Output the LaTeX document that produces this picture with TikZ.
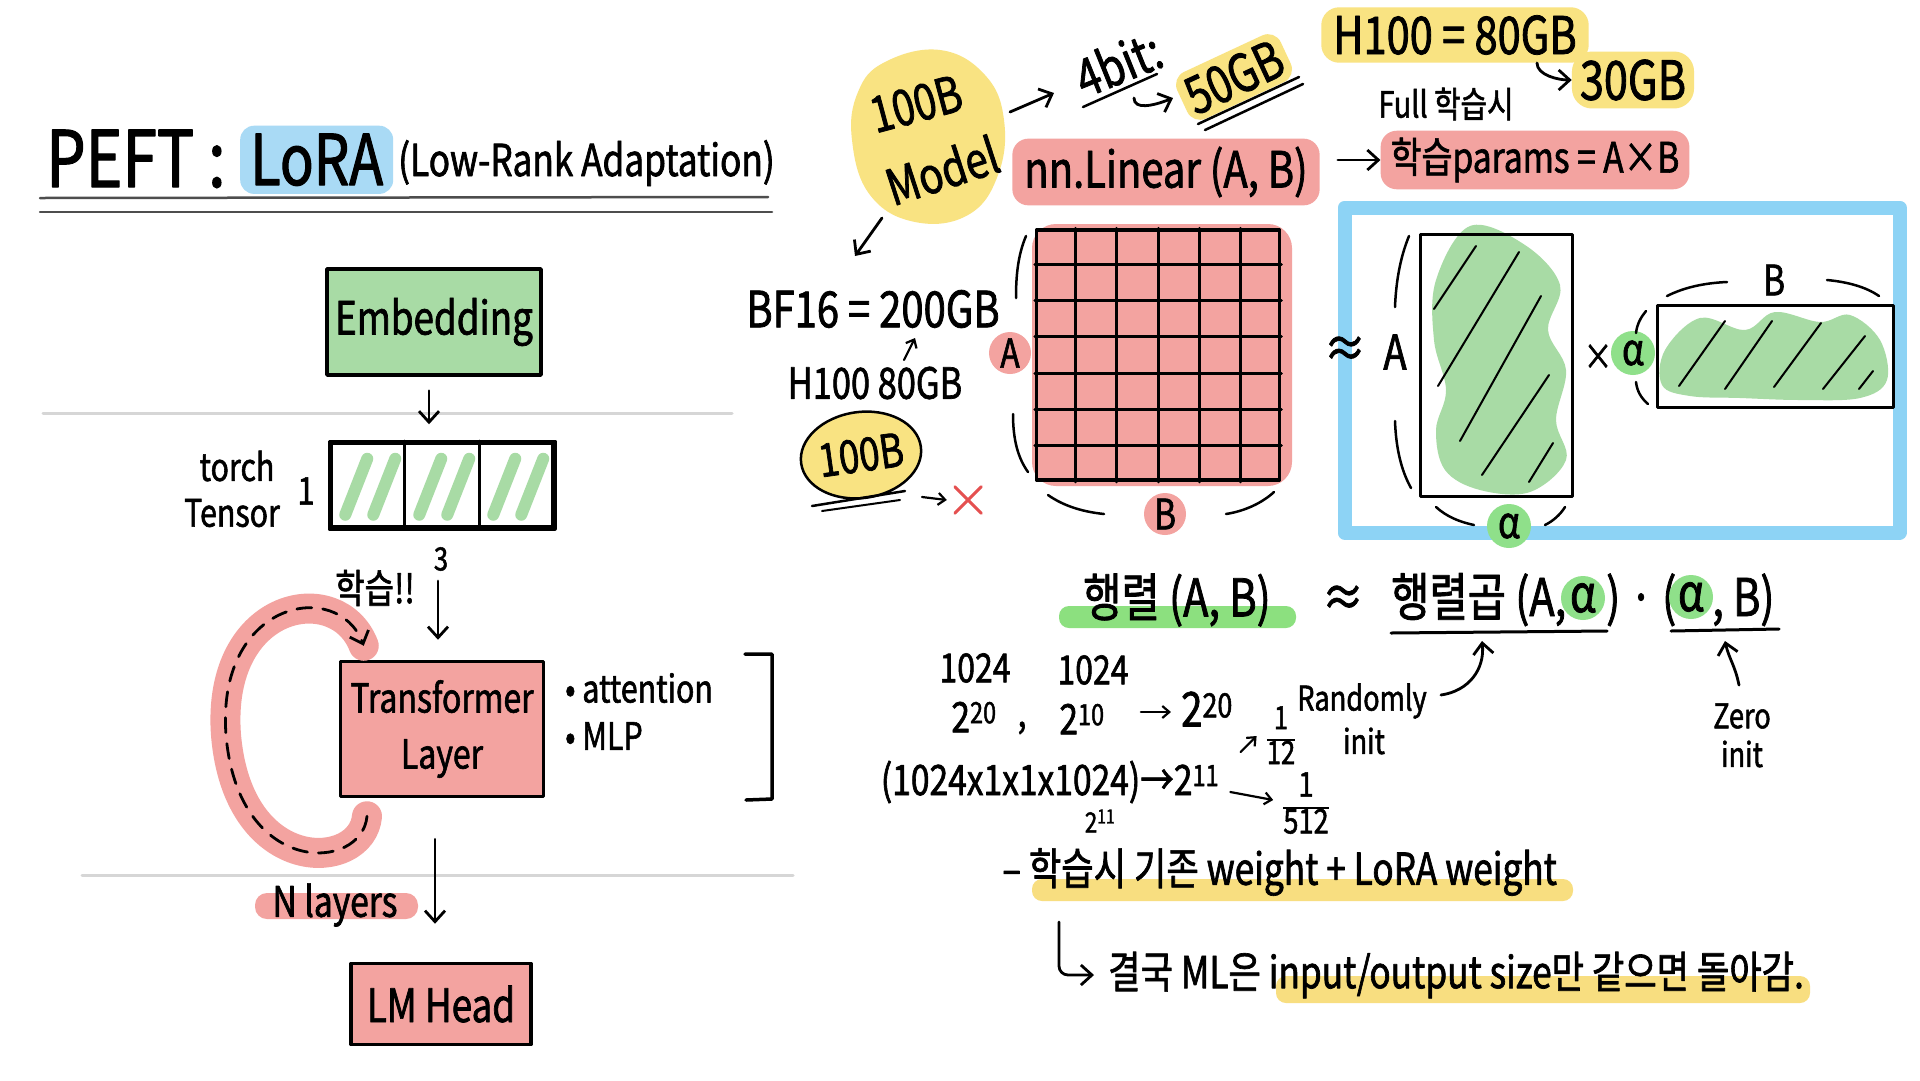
\documentclass[tikz,border=0pt]{standalone}
\usepackage{fontspec}
\setmainfont{Noto Sans CJK KR}[FakeStretch=0.8, FakeBold=1.5]
\usetikzlibrary{positioning,arrows.meta,calc,shapes.geometric}
\definecolor{skgreen}{HTML}{A8DBA5}
\definecolor{skgreenb}{HTML}{8FE08A}
\definecolor{skgreenhl}{HTML}{8CE07F}
\definecolor{skpink}{HTML}{F3A3A0}
\definecolor{skyellow}{HTML}{F9E382}
\definecolor{skyellowhl}{HTML}{F8DE80}
\definecolor{skblue}{HTML}{8DD3F5}
\definecolor{skbluehl}{HTML}{A9DAF5}
\definecolor{skred}{HTML}{E55050}
\definecolor{skgrey}{HTML}{D6D6D6}
\definecolor{skdark}{HTML}{4D4D4D}
\newcommand{\fs}[1]{\fontsize{#1}{#1}\selectfont}
\newcommand{\pw}[2]{#1\textsuperscript{#2}}
\newcommand{\vfr}[2]{\begin{tabular}{@{}c@{}}#1\\\hline #2\end{tabular}}
\setlength{\arrayrulewidth}{2pt}

\begin{document}
\begin{tikzpicture}[x=1pt, y=-1pt, line cap=round, line join=round,
  txt/.style={inner sep=0pt, font=\fs{#1}}, txt/.default=40,
  box/.style={draw=black, line width=3.5pt, align=center, inner sep=0pt},
  arr/.style={-{Straight Barb[length=11pt,width=20pt]}, line width=2.8pt},
  sarr/.style={-{Straight Barb[length=7pt,width=12pt]}, line width=2.2pt},
  hookarr/.style={arr, rounded corners=9pt},
  paren/.style={line width=2.5pt},
  blobdot/.style={circle, fill=#1, inner sep=0pt, minimum size=44pt},
  hatch/.style={line width=2pt},
  grayrule/.style={line width=3pt, draw=skgrey}]
\useasboundingbox[fill=white] (0,0) rectangle (1920,1080);

% title
\node[txt=78, anchor=base west] (peft) at (46,187) {PEFT :};
\node[txt=70, anchor=base west, fill=skbluehl, rounded corners=14pt, inner xsep=10pt, inner ysep=8pt] (lora) at (240,185) {LoRA};
\node[txt=44, anchor=base west] (sub) at (398,176) {(Low-Rank Adaptation)};
\draw[line width=2.5pt, draw=skdark] (40,198) -- (768,197);
\draw[line width=2.5pt, draw=skdark] (40,212) -- (772,212);

% left column
\draw[grayrule] (43,413) -- (732,413);
\draw[grayrule] (82,875) -- (793,875);
\node[box, fill=skgreen, minimum width=214pt, minimum height=106pt, font=\fs{46}] (emb) at (434,322) {Embedding};
\node[box, minimum width=222pt, minimum height=84pt] (tensor) at (442,485) {};
\foreach \i in {0,1,2} {
  \draw[line width=12pt, draw=skgreen] ($(tensor.south west)+({74*\i+16},-14)$) -- ++(22,-56);
  \draw[line width=12pt, draw=skgreen] ($(tensor.south west)+({74*\i+44},-14)$) -- ++(22,-56);
}
\foreach \k in {1,2}
  \draw[line width=3.5pt] ($(tensor.north west)!\k/3!(tensor.north east)$) -- ($(tensor.south west)!\k/3!(tensor.south east)$);
\draw[line width=3.5pt] (tensor.north west) rectangle (tensor.south east);
\node[txt=38] (torch) at (237,466) {torch};
\node[txt=38] (tens) at (232,513) {Tensor};
\node[txt=38] (one) at (306,491) {1};
\node[txt=32] (three) at (441,559) {3};
\node[txt=40] (learn) at (375,588) {학습!!};
\draw[arr, shorten <=14pt, shorten >=17pt] ([xshift=-5pt]emb.south) -- ([xshift=-5pt]emb.south |- tensor.north);

\node[box, fill=skpink, minimum width=203pt, minimum height=135pt, font=\fontsize{40}{56}\selectfont] (tl) at (442,729) {Transformer\\Layer};
\node[box, fill=skpink, minimum width=180pt, minimum height=81pt, font=\fs{46}] (lm) at (441,1004) {LM Head};
\draw[arr, shorten <=22pt, shorten >=20pt] ([xshift=-3pt]three.center) -- ([xshift=-3pt]three.center |- tl.north);
\draw[arr, shorten <=41pt, shorten >=38pt] ([xshift=-7pt]tl.south) -- ([xshift=-7pt]tl.south |- lm.north);
\node[txt=38, anchor=west] (att) at (565,688) {• attention};
\node[txt=38, anchor=west] (mlp) at (565,736) {• MLP};
\draw[line width=3.5pt] (745,654) -- (772,654) -- (772,799) -- (746,800);

\coordinate (loopS) at ([shift={(-75,18)}]tl.south);
\coordinate (loopE) at ([shift={(25,-14)}]tl.north west);
\draw[line width=30pt, draw=skpink] (loopS) .. controls (362,872) and (238,878) .. (226,735) .. controls (216,600) and (338,578) .. (loopE);
\draw[arr, dash pattern=on 15pt off 11pt] (loopS) .. controls (362,872) and (238,878) .. (226,735) .. controls (216,600) and (338,578) .. (loopE);
\fill[skpink, rounded corners=12pt] (255,893) rectangle (418,919);
\node[txt=42] (nlay) at (335,905) {N layers};

% model size notes
\fill[skyellow] plot[smooth cycle, tension=0.7] coordinates {(885,62) (940,50) (985,75) (1004,120) (998,175) (968,215) (915,222) (870,195) (852,140) (858,92)};
\node[txt=50, rotate=15] (m100) at (916,104) {100B};
\node[txt=50, rotate=18] (model) at (942,170) {Model};
\node[txt=52, rotate=22] (fourbit) at (1118,63) {4bit:};
\draw[line width=2.5pt] (1083,107) -- (1157,74);
\node[txt=52, rotate=25, fill=skyellow, rounded corners=14pt, inner sep=6pt] (gb50) at (1234,77) {50GB};
\draw[line width=2.5pt] (1198,124) -- (1299,77);
\draw[line width=2.5pt] (1205,130) -- (1303,84);
\draw[arr] ([shift={(94,8)}]m100.center) -- ([shift={(-64,30)}]fourbit.center);
\draw[arr] ([shift={(16,35)}]fourbit.center) .. controls +(0,12) and +(-20,8) .. ([shift={(-61,21)}]gb50.center);

\node[txt=50] (bf16) at (873,309) {BF16 = 200GB};
\node[txt=43] (h80) at (875,383) {H100 80GB};
\draw[arr] ([shift={(-60,48)}]model.center) -- ([shift={(-18,-53)}]bf16.center);
\draw[sarr] ([shift={(29,-23)}]h80.center) -- ([shift={(42,29)}]bf16.center);
\node[ellipse, draw, line width=2.5pt, fill=skyellow, minimum width=117pt, minimum height=86pt, inner sep=0pt, rotate=8, font=\fs{46}] (c100) at (861,455) {100B};
\draw[line width=2.5pt] (812,506) -- (905,491);
\draw[line width=2pt] (822,511) -- (900,500);
\node[minimum size=26pt, inner sep=0pt] (xmark) at (968,500) {};
\draw[line width=3pt, draw=skred] (xmark.north west) -- (xmark.south east) (xmark.north east) -- (xmark.south west);
\draw[sarr] ([shift={(61,42)}]c100.center) -- ([xshift=-8pt]xmark.west);

\node[txt=52, fill=skyellow, rounded corners=18pt, inner xsep=12pt, inner ysep=8pt] (h100) at (1455,35) {H100 = 80GB};
\node[txt=36] (full) at (1446,104) {Full 학습시};
\node[txt=54, fill=skyellow, rounded corners=20pt, inner sep=8pt] (gb30) at (1633,80) {30GB};
\draw[arr] ([shift={(82,28)}]h100.center) .. controls +(0,12) and +(-14,0) .. (gb30.west);
\node[txt=50, fill=skpink, rounded corners=16pt, inner xsep=12pt, inner ysep=8pt] (nnlin) at (1166,172) {nn.Linear (A, B)};
\node[txt=42, fill=skpink, rounded corners=16pt, inner xsep=10pt, inner ysep=7pt] (params) at (1535,160) {학습params = A×B};
\draw[arr] ($(nnlin.east |- params.west)+(18,0)$) -- (params.west);

% full weight matrix
\fill[skpink, rounded corners=24pt] (1032,224) rectangle (1292,486);
\node[draw, line width=3.5pt, fill=skpink, minimum width=243pt, minimum height=250pt] (W) at (1158,355) {};
\foreach \k in {1,...,5}
  \draw[line width=3pt] ($(W.north west)!\k/6!(W.north east)$) -- ($(W.south west)!\k/6!(W.south east)$);
\foreach \k in {1,...,6}
  \draw[line width=3pt] ($(W.north west)!\k/7!(W.south west)$) -- ($(W.north east)!\k/7!(W.south east)$);
\draw[paren] (1026,236) .. controls (1018,255) and (1016,275) .. (1016,298);
\draw[paren] (1013,414) .. controls (1013,440) and (1018,458) .. (1028,472);
\draw[paren] (1048,495) .. controls (1065,507) and (1085,512) .. (1104,514);
\draw[paren] (1226,514) .. controls (1245,511) and (1262,503) .. (1274,492);
\node[blobdot=skpink, minimum size=42pt, font=\fs{40}] (wa) at (1010,353) {A};
\node[blobdot=skpink, minimum size=42pt, font=\fs{42}] (wb) at (1165,514) {B};

% low-rank factors
\node[draw=skblue, line width=14pt, minimum width=555pt, minimum height=325pt] (frame) at (1622,370) {};
\node[txt=52] (approx1) at (1345,352) {≈};
\node[txt=48] (la) at (1395,352) {A};
\fill[skgreen] plot[smooth cycle, tension=0.6] coordinates {(1470,226) (1525,245) (1560,285) (1548,330) (1566,370) (1556,420) (1566,460) (1530,492) (1480,490) (1445,470) (1436,430) (1446,390) (1434,340) (1436,280)};
\node[draw, line width=3pt, minimum width=152pt, minimum height=262pt] (Amat) at (1496,365) {};
\draw[hatch] (1434,309) -- (1476,246);
\draw[hatch] (1438,386) -- (1519,252);
\draw[hatch] (1460,441) -- (1541,296);
\draw[hatch] (1482,475) -- (1549,375);
\draw[hatch] (1529,482) -- (1553,443);
\draw[paren] (1409,236) .. controls (1400,258) and (1396,282) .. (1395,307);
\draw[paren] (1395,421) .. controls (1396,448) and (1401,470) .. (1411,488);
\draw[paren] (1436,507) .. controls (1447,517) and (1460,522) .. (1474,525);
\draw[paren] (1545,525) .. controls (1553,521) and (1560,515) .. (1565,507);
\node[blobdot=skgreenb, font=\fs{44}] (alA) at (1509,526) {α};
\node[txt=36] (times) at (1598,357) {×};
\node[blobdot=skgreenb, font=\fs{44}] (alB) at (1633,353) {α};
\fill[skgreen] plot[smooth cycle, tension=0.6] coordinates {(1665,350) (1700,318) (1745,330) (1775,312) (1820,322) (1850,315) (1880,340) (1887,380) (1860,398) (1800,400) (1740,398) (1690,396) (1662,385)};
\node[draw, line width=3pt, minimum width=236pt, minimum height=102pt] (Bmat) at (1775,356) {};
\draw[hatch] (1679,386) -- (1725,321);
\draw[hatch] (1725,389) -- (1772,321);
\draw[hatch] (1774,387) -- (1821,323);
\draw[hatch] (1823,389) -- (1865,336);
\draw[hatch] (1859,389) -- (1873,371);
\draw[paren] (1646,311) .. controls (1641,317) and (1637,324) .. (1636,333);
\draw[paren] (1636,382) .. controls (1637,391) and (1641,398) .. (1648,404);
\draw[paren] (1667,296) .. controls (1685,287) and (1705,283) .. (1727,282);
\draw[paren] (1827,280) .. controls (1848,282) and (1866,287) .. (1879,296);
\node[txt=42] (lb) at (1774,280) {B};

% formula
\fill[skgreenhl, rounded corners=10pt] (1059,606) rectangle (1296,628);
\node[txt=52] (mat) at (1177,600) {행렬 (A, B)};
\node[txt=52] (approx2) at (1343,601) {≈};
\node[txt=52, anchor=base west] (mm1) at (1391,616) {행렬곱 (A,};
\node[blobdot=skgreenb, font=\fs{52}] (al1) at (1583,598) {α};
\node[txt=52, anchor=base west] (mm2) at (1606,616) {) · (};
\node[blobdot=skgreenb, font=\fs{52}] (al2) at (1691,597) {α};
\node[txt=52, anchor=base west] (mm3) at (1712,616) {, B)};
\draw[line width=3pt] (1391,633) -- (1607,631);
\draw[line width=3pt] (1671,631) -- (1779,629);
\coordinate (u1) at (1482,641);
\coordinate (u2) at (1725,641);

\node[txt=40] (na) at (975,668) {1024};
\node[txt=40] (nb) at (1093,670) {1024};
\node[txt=42] (pa) at (974,717) {\pw{2}{20}};
\node[txt=40] (cm) at (1022,728) {,};
\node[txt=42] (pb) at (1082,719) {\pw{2}{10}};
\node[txt=48] (pc) at (1207,709) {\pw{2}{20}};
\draw[sarr] ($(pb.east)+(36,-7)$) -- ($(pc.west)+(-10,3)$);
\node[txt=32] (f12) at (1281,740) {\vfr{1}{12}};
\draw[sarr] ($(f12.west)+(-26,12)$) -- ($(f12.west)+(-10,-4)$);
\node[txt=34] (rand) at (1362,701) {Randomly};
\node[txt=34] (rinit) at (1364,741) {init};
\node[txt=42] (dims) at (1050,782) {(1024x1x1x1024)→\pw{2}{11}};
\node[txt=28] (p11) at (1100,821) {\pw{2}{11}};
\node[txt=34] (f512) at (1306,808) {\vfr{1}{512}};
\draw[sarr] ($(dims.east)+(11,10)$) -- ($(f512.west)+(-10,-8)$);
\node[txt=34] (zero) at (1742,716) {Zero};
\node[txt=34] (zinit) at (1742,754) {init};
\draw[arr] ([shift={(14,-6)}]rand.east) .. controls +(28,-4) and +(3,28) .. (u1);
\draw[arr] ([shift={(-3,-18)}]zero.north) .. controls +(-4,-20) and +(4,18) .. (u2);

% notes
\fill[skyellowhl, rounded corners=10pt] (1032,879) rectangle (1573,901);
\node[txt=44, anchor=west] (wl) at (1002,872) {– 학습시 기존 weight + LoRA weight};
\fill[skyellowhl, rounded corners=10pt] (1276,976) rectangle (1810,1003);
\node[txt=44, anchor=west] (fin) at (1108,975) {결국 ML은 input/output size만 같으면 돌아감.};
\draw[hookarr] ($(wl.west)+(57,50)$) |- ($(fin.west)+(-14,0)$);
\end{tikzpicture}
\end{document}
